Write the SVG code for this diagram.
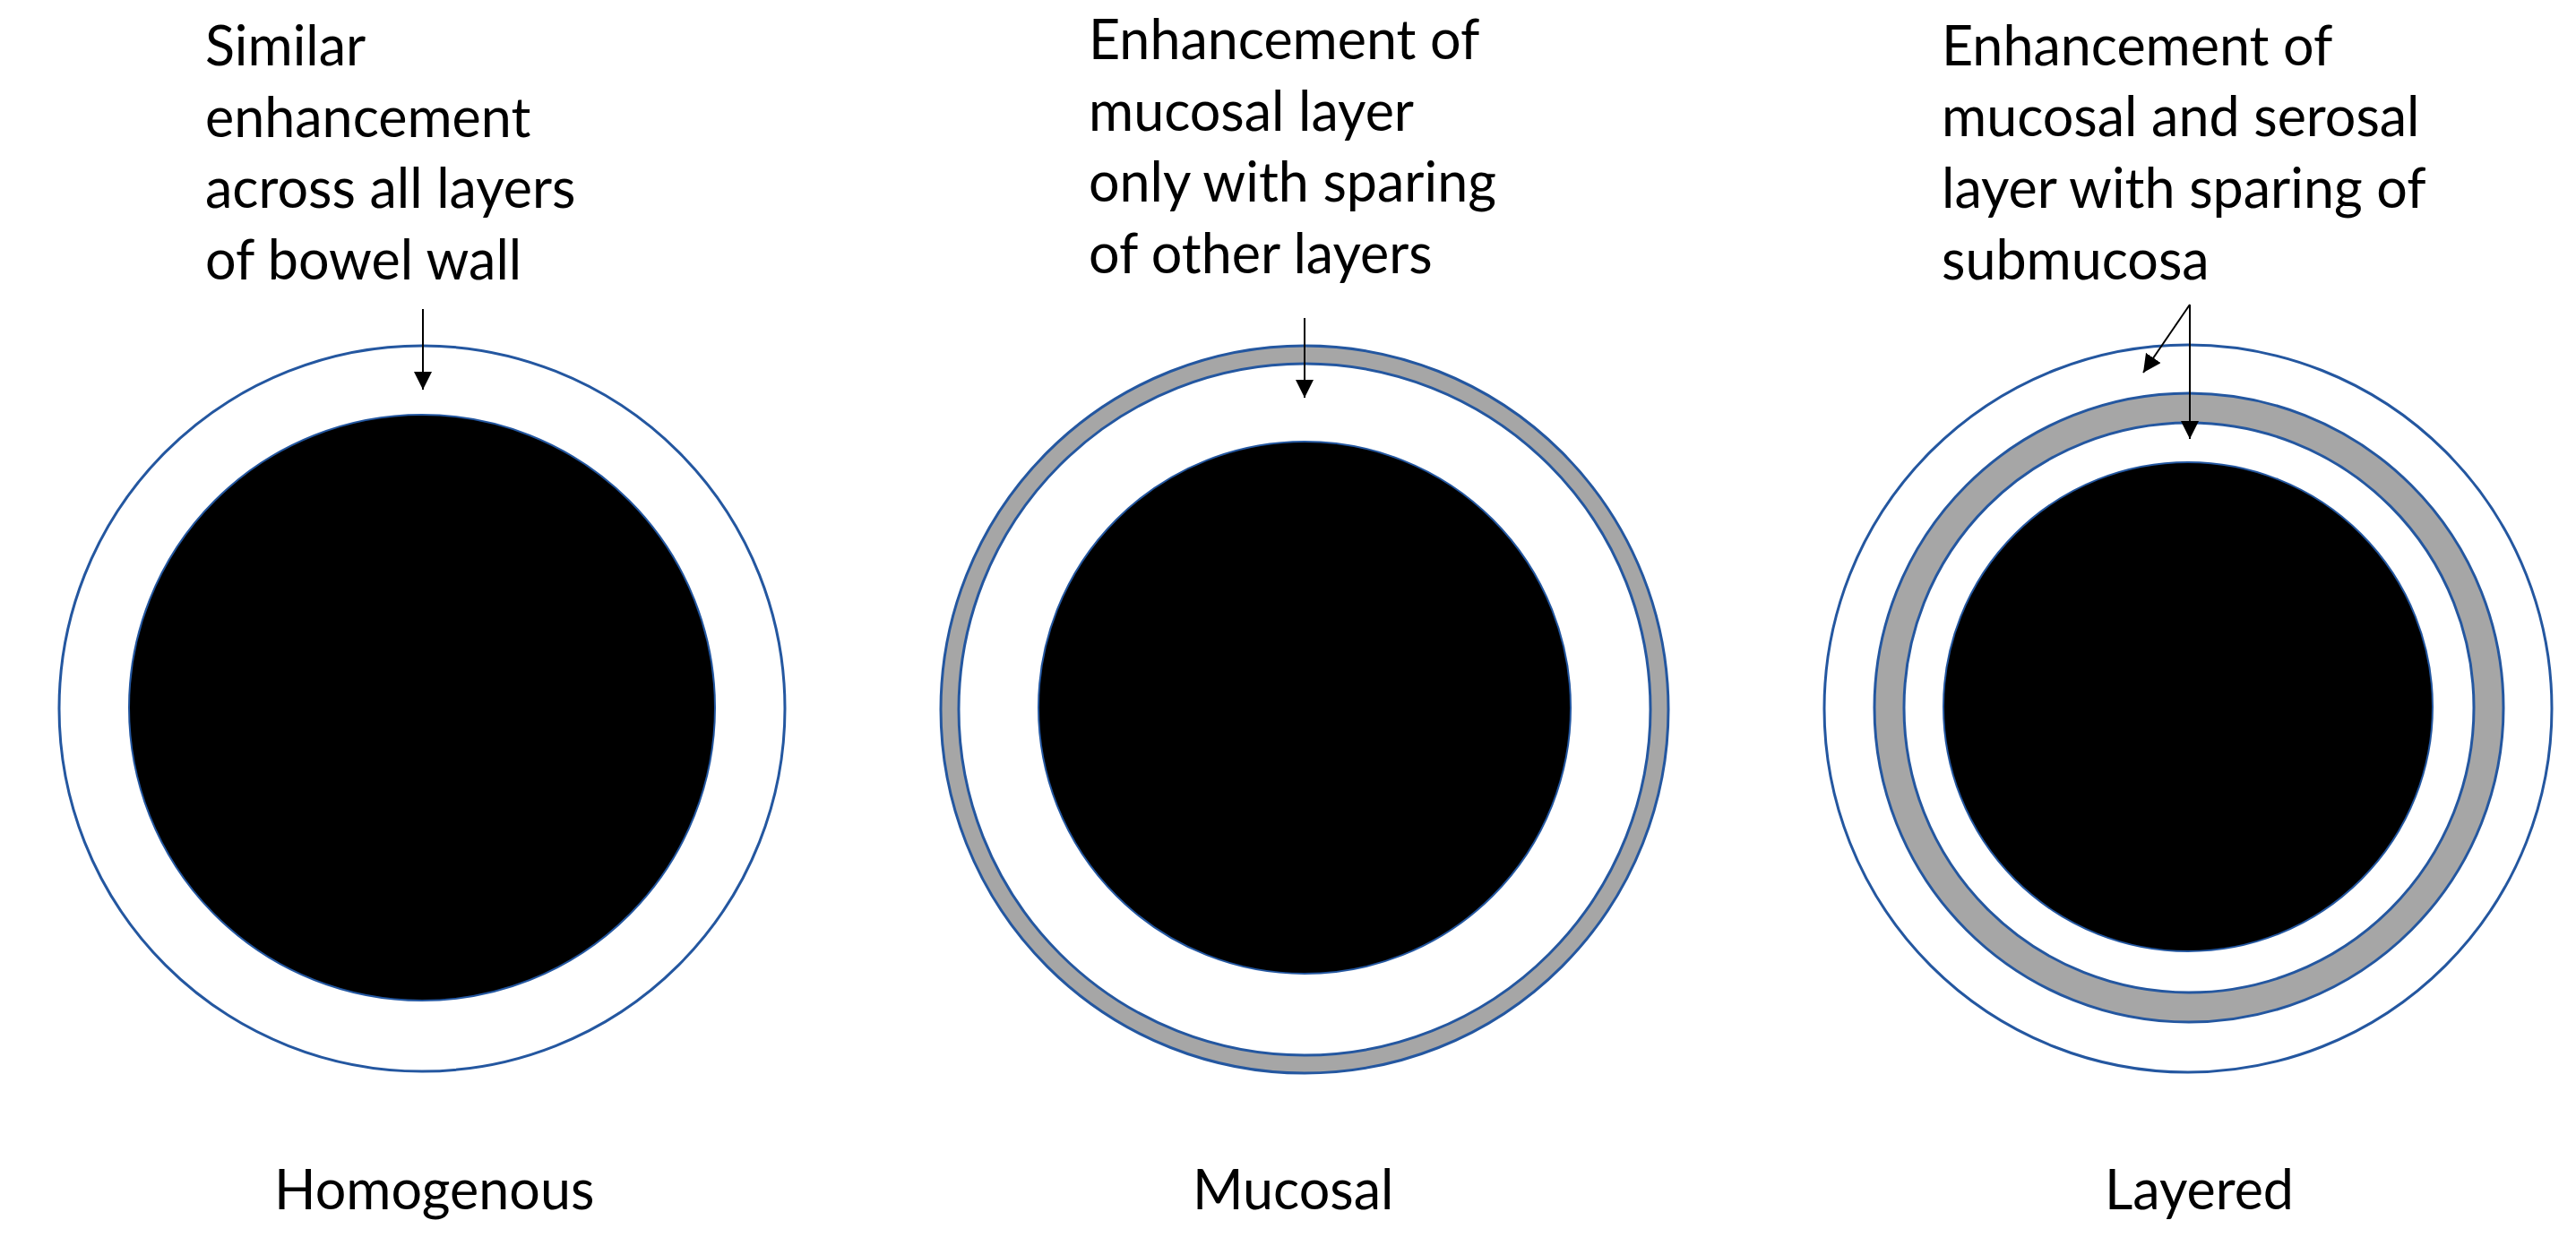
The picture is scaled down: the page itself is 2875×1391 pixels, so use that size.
<svg xmlns="http://www.w3.org/2000/svg" width="2875" height="1391" viewBox="0 0 2875 1391">
<style>
.ring{fill:#fff;stroke:#2457a0;stroke-width:3}
.gray{fill:#a6a6a6;stroke:#2457a0;stroke-width:3}
.lumen{fill:#000;stroke:#2457a0;stroke-width:2}
.lbl{font-family:Lato,"Open Sans",sans-serif;font-size:61px;fill:#000}
.arr{stroke:#000;stroke-width:2;fill:none}
</style>
<defs>
<marker id="ah" markerWidth="20" markerHeight="22" refX="10" refY="5" orient="auto" markerUnits="userSpaceOnUse" viewBox="0 0 10 11">
<path d="M0,0 L10,5 L0,10 z" fill="#000"/>
</marker>
</defs>
<rect width="2875" height="1391" fill="#fff"/>
<g id="homogenous">
<circle class="ring" cx="471" cy="791" r="405"/>
<circle class="lumen" cx="471" cy="790" r="327"/>
<text class="lbl" x="229" y="73">Similar</text>
<text class="lbl" x="229" y="153">enhancement</text>
<text class="lbl" x="229" y="232">across all layers</text>
<text class="lbl" x="229" y="312">of bowel wall</text>
<text class="lbl" x="306" y="1350">Homogenous</text>
</g>
<g id="mucosal">
<circle class="gray" cx="1456" cy="792" r="406"/>
<circle class="ring" cx="1456" cy="792" r="386"/>
<circle class="lumen" cx="1456" cy="790" r="297"/>
<text class="lbl" x="1215" y="66">Enhancement of</text>
<text class="lbl" x="1215" y="146">mucosal layer</text>
<text class="lbl" x="1215" y="225">only with sparing</text>
<text class="lbl" x="1215" y="305">of other layers</text>
<text class="lbl" x="1331" y="1350">Mucosal</text>
</g>
<g id="layered">
<circle class="ring" cx="2442" cy="791" r="406"/>
<circle class="gray" cx="2443" cy="790" r="351"/>
<circle class="ring" cx="2443" cy="790" r="318"/>
<circle class="lumen" cx="2442" cy="789" r="273"/>
<text class="lbl" x="2167" y="73">Enhancement of</text>
<text class="lbl" x="2167" y="152">mucosal and serosal</text>
<text class="lbl" x="2167" y="232">layer with sparing of</text>
<text class="lbl" x="2167" y="312">submucosa</text>
<text class="lbl" x="2349" y="1350">Layered</text>
</g>
<g id="connectors">
<line class="arr" x1="472" y1="345" x2="472" y2="435" marker-end="url(#ah)"/>
<line class="arr" x1="1456" y1="355" x2="1456" y2="444" marker-end="url(#ah)"/>
<line class="arr" x1="2444" y1="340" x2="2444" y2="490" marker-end="url(#ah)"/>
<line class="arr" x1="2444" y1="340" x2="2392" y2="416" marker-end="url(#ah)"/>
</g>
</svg>
